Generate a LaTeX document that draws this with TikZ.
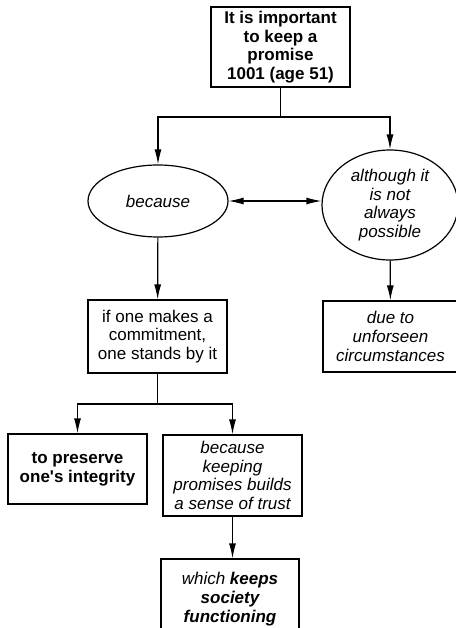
\documentclass[tikz,border=0pt]{standalone}
\usepackage{fontspec}
\setmainfont{Liberation Sans}
\usetikzlibrary{shapes,arrows.meta,positioning}

\begin{document}
\begin{tikzpicture}[x=1pt, y=-1pt, line width=1.2pt,
    txt/.style={align=center, inner sep=0pt, font=\fontsize{17}{18.7}\selectfont},
    box/.style={txt, rectangle, draw},
    oval/.style={txt, ellipse, draw},
    ar/.style={->, >={Latex[length=15pt,width=7pt]}},
    dar/.style={<->, >={Latex[length=15pt,width=7pt]}}]
    \useasboundingbox (0,0) rectangle (455,628);
    % top claim
    \node [box, minimum width=139pt, minimum height=80pt] (claim) at (280.5,47)
        {\bfseries It is important\\\bfseries to keep a\\\bfseries promise\\\bfseries 1001 (age 51)};
    \node [oval, minimum width=140pt, minimum height=72pt] (because) at (158,201) {\itshape because};
    \node [oval, minimum width=136pt, minimum height=110pt] (although) at (390,205)
        {\itshape although it\\\itshape is not\\\itshape always\\\itshape possible};
    \node [box, minimum width=139pt, minimum height=73pt] (commit) at (157.5,336.5)
        {if one makes a\\commitment,\\one stands by it};
    \node [box, minimum width=135pt, minimum height=71pt] (unforseen) at (390.5,336.5)
        {\itshape due to\\\itshape unforseen\\\itshape circumstances};
    \node [box, minimum width=139pt, minimum height=70pt] (integrity) at (77.5,469)
        {\bfseries to preserve\\\bfseries one\textquotesingle s integrity};
    \node [box, minimum width=139pt, minimum height=81pt] (trust) at (232.5,475.5)
        {\itshape because\\\itshape keeping\\\itshape promises builds\\\itshape a sense of trust};
    \node [box, minimum width=138pt, minimum height=80pt] (society) at (230,599)
        {\itshape which \bfseries keeps\\\bfseries\itshape society\\\bfseries\itshape functioning};
    % connectors
    \coordinate (split1) at (280.5,117);
    \coordinate (split2) at (157.5,404);
    \draw (claim) -- (split1);
    \draw [ar] (split1) -| (because.north);
    \draw [ar] (split1) -| (although.north);
    \draw [dar] (because.east) -- (although.west |- because.east);
    \draw [ar] (because) -- (commit);
    \draw [ar] (although) -- (unforseen);
    \draw (commit) -- (split2);
    \draw [ar] (split2) -| (integrity.north);
    \draw [ar] (split2) -| (trust.north);
    \draw [ar] (trust.south) -- (trust.south |- society.north);
\end{tikzpicture}
\end{document}
